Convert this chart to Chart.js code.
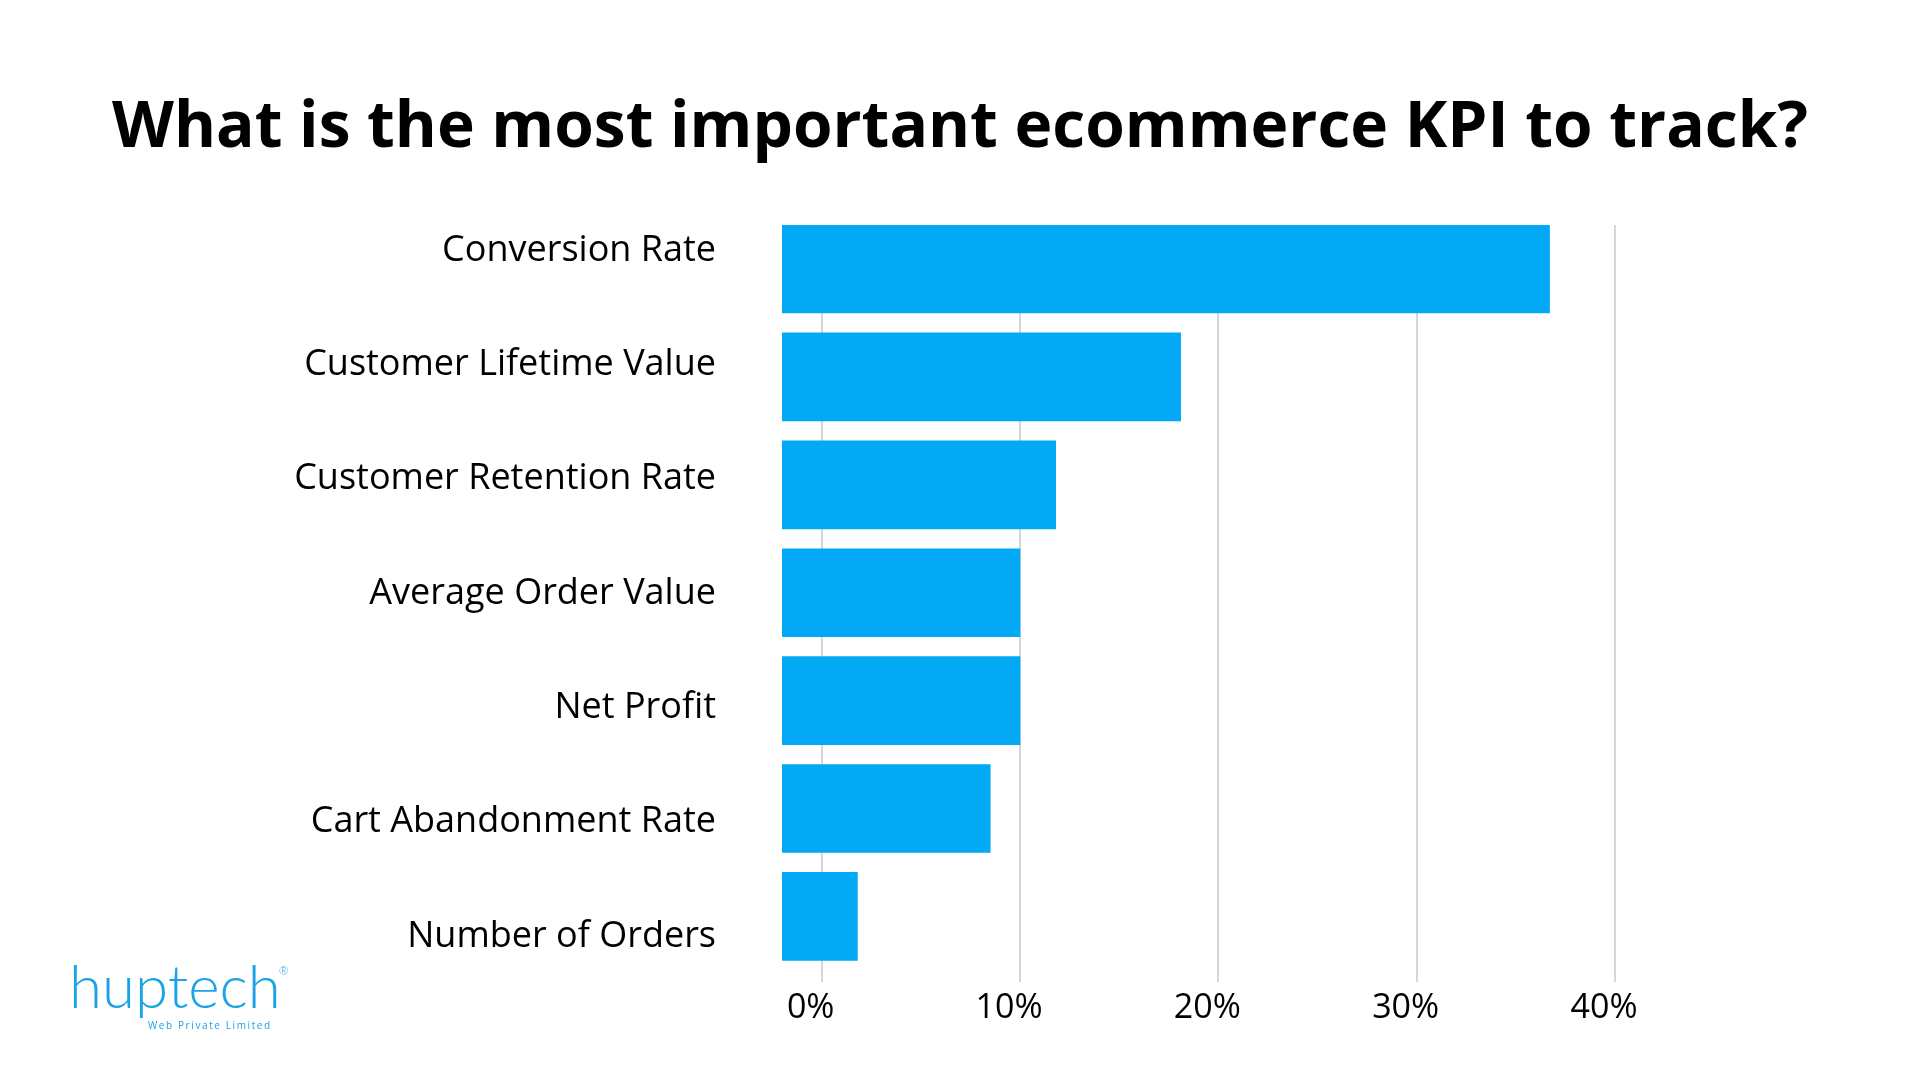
<!DOCTYPE html>
<html>
<head>
<meta charset="utf-8">
<script src="https://cdn.jsdelivr.net/npm/chart.js@4.4.1/dist/chart.umd.min.js"></script>
<style>
html,body{margin:0;padding:0;background:#fff;}
#wrap{position:relative;width:1920px;height:1080px;overflow:hidden;}
#c{position:absolute;left:0;top:0;}
#title{position:absolute;left:0;top:91px;width:1920px;text-align:center;font-family:'Open Sans',sans-serif;font-weight:700;font-size:64px;line-height:64px;color:#000;white-space:nowrap;}
#logo{position:absolute;left:69px;top:948px;color:#1ba3e6;font-family:Lato,'Open Sans',sans-serif;}
#logo .brand{font-size:60px;font-weight:300;line-height:70px;}
#logo .brand sup{font-size:12px;position:relative;top:-12px;margin-left:-2px;}
#logo .sub{position:absolute;left:79px;top:70px;font-size:10px;letter-spacing:1.6px;white-space:nowrap;font-family:'Open Sans',sans-serif;}
</style>
</head>
<body>
<div id="wrap">
<canvas id="c" width="1920" height="1080"></canvas>
<div id="title"></div>
<div id="logo"><div class="brand">huptech<sup>®</sup></div><div class="sub">Web Private Limited</div></div>
</div>
<script>
const titleText = 'What is the most important ecommerce KPI to track?';
const categories = ['Conversion Rate','Customer Lifetime Value','Customer Retention Rate','Average Order Value','Net Profit','Cart Abandonment Rate','Number of Orders'];
const values = [36.7, 18.1, 11.8, 10.0, 10.0, 8.5, 1.8];
const barStart = -2;
const xTickValues = [0, 10, 20, 30, 40];
const xTickLabels = ['0%', '10%', '20%', '30%', '40%'];

document.getElementById('title').textContent = titleText;
const FONT = "'Open Sans', sans-serif";
// index ranges for the bar axis and the label axis
const BMIN = -0.408, BMAX = 6.608;
const LMIN = -0.223, LMAX = 6.40;

new Chart(document.getElementById('c').getContext('2d'), {
  type: 'bar',
  data: {
    labels: categories,
    datasets: [{
      data: values.map((v, i) => ({ x: v, y: i })),
      base: barStart,
      backgroundColor: '#03A9F4',
      borderWidth: 0,
      barThickness: 88,
      xAxisID: 'x',
      yAxisID: 'y'
    }]
  },
  options: {
    indexAxis: 'y',
    responsive: false,
    animation: false,
    devicePixelRatio: 1,
    layout: { padding: { left: 0, right: 305, top: 225, bottom: 28 } },
    plugins: {
      legend: { display: false },
      tooltip: { enabled: false },
      title: { display: false }
    },
    scales: {
      x: {
        type: 'linear',
        min: barStart,
        max: 40,
        afterBuildTicks: s => { s.ticks = xTickValues.map(v => ({ value: v })); },
        grid: { color: '#d6d6d6', lineWidth: 2, drawTicks: false },
        border: { display: false },
        ticks: {
          callback: (v) => xTickLabels[xTickValues.indexOf(v)],
          font: { family: FONT, size: 34 },
          color: '#000',
          padding: 6,
          labelOffset: -11,
          maxRotation: 0,
          autoSkip: false
        },
        afterFit: s => { s.height = 70; }
      },
      y: {
        type: 'linear',
        display: false,
        reverse: true,
        offset: false,
        min: BMIN,
        max: BMAX,
        bounds: 'data',
        afterDataLimits: s => { s.min = BMIN; s.max = BMAX; }
      },
      yL: {
        type: 'linear',
        position: 'left',
        reverse: true,
        offset: false,
        min: LMIN,
        max: LMAX,
        bounds: 'data',
        grace: 0,
        afterDataLimits: s => { s.min = LMIN; s.max = LMAX; },
        afterBuildTicks: s => { s.ticks = categories.map((c, i) => ({ value: i })); },
        ticks: {
          callback: (v) => categories[v],
          font: { family: FONT, size: 36 },
          color: '#000',
          padding: 66,
          autoSkip: false
        },
        grid: { display: false, drawTicks: false, offset: false },
        border: { display: false },
        afterFit: s => { s.width = 782; }
      }
    }
  }
});
</script>
</body>
</html>
